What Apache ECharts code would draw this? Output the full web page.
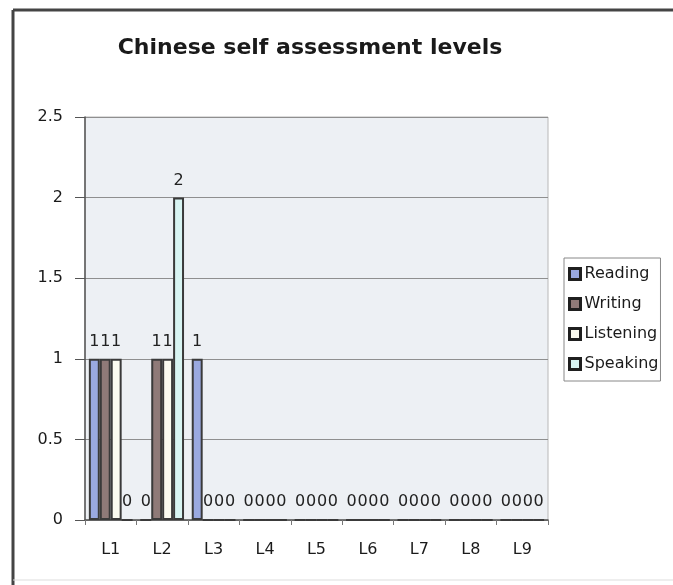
<!DOCTYPE html>
<html>
<head>
<meta charset="utf-8">
<script src="https://cdn.jsdelivr.net/npm/echarts@6/dist/echarts.min.js"></script>
<style>
  html, body { margin: 0; padding: 0; background: #fff; }
  #main { width: 673px; height: 585px; }
</style>
</head>
<body>
<div id="main"></div>
<script>
// levels on the x axis
var levels = ['L1', 'L2', 'L3', 'L4', 'L5', 'L6', 'L7', 'L8', 'L9'];
// number of people per level, one array per skill
var reading   = [1, 0, 1, 0, 0, 0, 0, 0, 0];
var writing   = [1, 1, 0, 0, 0, 0, 0, 0, 0];
var listening = [1, 1, 0, 0, 0, 0, 0, 0, 0];
var speaking  = [0, 2, 0, 0, 0, 0, 0, 0, 0];

var skillNames = ['Reading', 'Writing', 'Listening', 'Speaking'];
var skillData = [reading, writing, listening, speaking];
var skillColors = ['#9aa9e0', '#8f7a78', '#fbfbf0', '#d8f4f2'];

var font = 'DejaVu Sans';

var myChart = echarts.init(document.getElementById('main'));

var series = [];
for (var i = 0; i < skillNames.length; i++) {
    series.push({
        name: skillNames[i],
        type: 'bar',
        data: skillData[i],
        barGap: '0%',
        barCategoryGap: '15%',
        itemStyle: {
            color: skillColors[i],
            borderColor: '#3a3a3a',
            borderWidth: 2
        },
        label: {
            show: true,
            position: 'top',
            distance: 9,
            color: '#222',
            fontFamily: font,
            fontSize: 16
        }
    });
}

var option = {
    backgroundColor: '#fff',
    title: {
        text: 'Chinese self assessment levels',
        left: 305,
        textAlign: 'center',
        top: 32,
        textStyle: { fontFamily: font, fontSize: 22, fontWeight: 'bold', color: '#1a1a1a' }
    },
    legend: {
        orient: 'vertical',
        left: 564,
        top: 258,
        width: 106,
        itemWidth: 11,
        itemHeight: 11,
        itemGap: 14,
        padding: [8, 2, 9, 4],
        borderColor: '#888',
        borderWidth: 1,
        textStyle: { fontFamily: font, fontSize: 16, color: '#1a1a1a', padding: [0, 0, 0, -1] },
        data: skillNames.map(function (n, i) {
            return {
                name: n,
                icon: 'rect',
                itemStyle: { color: skillColors[i], borderColor: '#1f1f1f', borderWidth: 3 }
            };
        })
    },
    grid: {
        left: 85,
        right: 125,
        top: 117,
        bottom: 65,
        show: true,
        backgroundColor: '#edf0f4',
        borderColor: '#b8b8b8',
        borderWidth: 1
    },
    xAxis: {
        type: 'category',
        data: levels,
        axisLine: { lineStyle: { color: '#555', width: 1.5 } },
        axisTick: { show: true, length: 5, lineStyle: { color: '#777' } },
        axisLabel: { fontFamily: font, fontSize: 16, color: '#1a1a1a', margin: 22 }
    },
    yAxis: {
        type: 'value',
        min: 0,
        max: 2.5,
        interval: 0.5,
        axisLine: { show: true, lineStyle: { color: '#555', width: 1.5 } },
        axisTick: { show: true, length: 10, lineStyle: { color: '#555' } },
        axisLabel: { fontFamily: font, fontSize: 16, color: '#1a1a1a', margin: 22 },
        splitLine: { lineStyle: { color: '#8f8f8f', width: 1 } }
    },
    graphic: [
        // outer frame, only top and left edges visible in the scan
        { type: 'line', shape: { x1: 13, y1: 10, x2: 673, y2: 10 }, style: { stroke: '#444', lineWidth: 3 } },
        { type: 'line', shape: { x1: 13, y1: 10, x2: 13, y2: 585 }, style: { stroke: '#444', lineWidth: 3 } },
        { type: 'line', shape: { x1: 13, y1: 580, x2: 673, y2: 580 }, style: { stroke: '#ddd', lineWidth: 1 } }
    ],
    series: series
};

myChart.setOption(option);
</script>
</body>
</html>
